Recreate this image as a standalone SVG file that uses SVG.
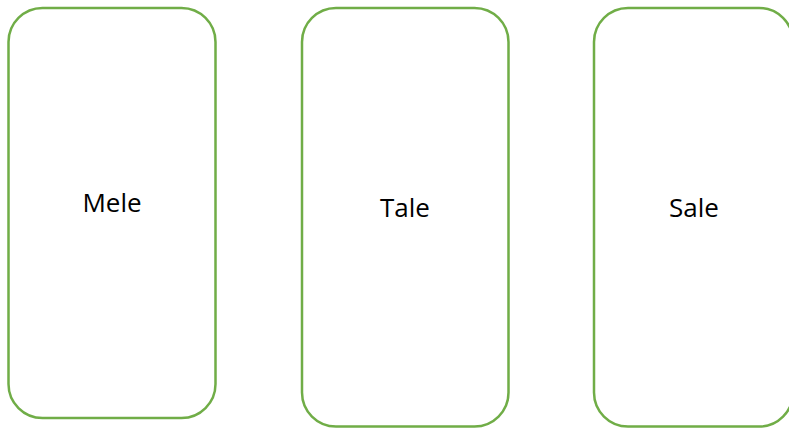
<svg xmlns="http://www.w3.org/2000/svg" width="789" height="428" viewBox="0 0 789 428">
  <style>
    .card { fill: #ffffff; stroke: #70ad47; stroke-width: 2.5; }
    .label { font-family: "Open Sans", "Noto Sans", sans-serif; font-size: 26px; fill: #000000; text-anchor: middle; }
  </style>
  <rect x="0" y="0" width="789" height="428" fill="#ffffff"/>
  <g id="mele">
    <rect class="card" x="8.5" y="8" width="207" height="410" rx="34" ry="34"/>
    <text class="label" x="112" y="212">Mele</text>
  </g>
  <g id="tale">
    <rect class="card" x="302" y="8" width="206.5" height="418.5" rx="34" ry="34"/>
    <text class="label" x="405" y="217">Tale</text>
  </g>
  <g id="sale">
    <rect class="card" x="594" y="8" width="199" height="418.5" rx="34" ry="34"/>
    <text class="label" x="694" y="217">Sale</text>
  </g>
  <g id="connectors"/>
</svg>
